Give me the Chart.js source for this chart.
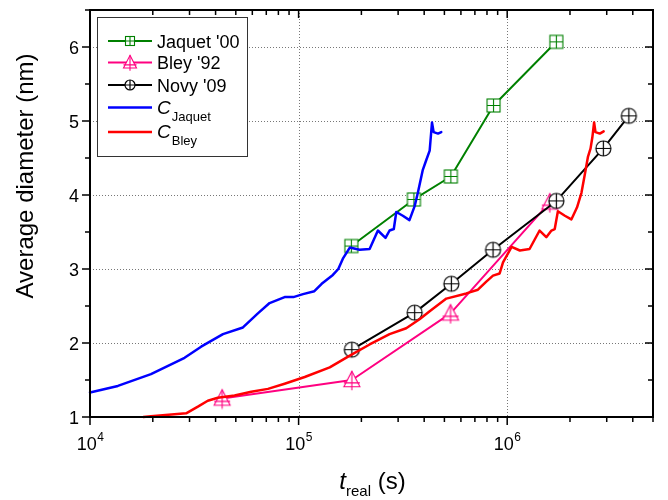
<!DOCTYPE html>
<html><head><meta charset="utf-8">
<script src="https://cdn.jsdelivr.net/npm/chart.js@4"></script>
<style>html,body{margin:0;padding:0;background:#fff;}#wrap{width:668px;height:500px;}</style>
</head><body><div id="wrap"><canvas id="c" width="668" height="500"></canvas></div>
<script>
// ---- data (time in s, diameter in nm) ----
const jaquetT = [1.79e5, 3.57e5, 5.37e5, 8.6e5, 1.72e6];
const jaquetD = [3.31, 3.94, 4.25, 5.21, 6.07];
const bleyT = [4.3e4, 1.8e5, 5.35e5, 1.6e6];
const bleyD = [1.25, 1.50, 2.40, 3.90];
const novyT = [1.8e5, 3.6e5, 5.4e5, 8.55e5, 1.72e6, 2.89e6, 3.83e6];
const novyD = [1.91, 2.41, 2.80, 3.26, 3.92, 4.63, 5.07];
const cJaquetT = [1.0e4, 1.36e4, 1.96e4, 2.84e4, 3.41e4, 4.34e4, 5.41e4, 6.38e4, 7.26e4, 8.57e4, 9.44e4,
  1.05e5, 1.19e5, 1.29e5, 1.46e5, 1.55e5, 1.63e5, 1.76e5, 1.96e5, 2.19e5, 2.40e5, 2.61e5, 2.73e5, 2.86e5,
  2.94e5, 3.16e5, 3.40e5, 3.60e5, 3.73e5, 3.94e5, 4.09e5, 4.25e5, 4.29e5, 4.36e5, 4.44e5, 4.66e5, 4.83e5];
const cJaquetD = [1.33, 1.42, 1.58, 1.80, 1.95, 2.12, 2.21, 2.40, 2.54, 2.62, 2.62,
  2.66, 2.70, 2.80, 2.92, 3.00, 3.14, 3.29, 3.26, 3.27, 3.52, 3.42, 3.52, 3.54,
  3.77, 3.72, 3.66, 3.85, 4.03, 4.34, 4.47, 4.60, 4.74, 4.98, 4.85, 4.83, 4.85];
const cBleyT = [1.8e4, 1.96e4, 2.89e4, 3.29e4, 3.67e4, 4.10e4, 4.93e4, 5.93e4, 7.13e4, 8.57e4, 1.07e5,
  1.41e5, 1.76e5, 2.19e5, 2.73e5, 3.28e5, 3.80e5, 4.25e5, 5.11e5, 6.37e5, 7.24e5, 7.94e5, 8.55e5, 9.20e5,
  9.55e5, 1.05e6, 1.15e6, 1.28e6, 1.43e6, 1.54e6, 1.63e6, 1.69e6, 1.75e6, 1.89e6, 2.03e6, 2.16e6, 2.27e6,
  2.36e6, 2.44e6, 2.51e6, 2.56e6, 2.61e6, 2.65e6, 2.78e6, 2.90e6];
const cBleyD = [1.00, 1.01, 1.05, 1.14, 1.22, 1.26, 1.29, 1.34, 1.38, 1.45, 1.54,
  1.67, 1.83, 1.98, 2.12, 2.20, 2.32, 2.43, 2.60, 2.67, 2.72, 2.83, 2.91, 2.94,
  3.09, 3.30, 3.25, 3.27, 3.52, 3.43, 3.52, 3.54, 3.78, 3.72, 3.67, 3.83, 4.03,
  4.29, 4.52, 4.63, 4.78, 4.98, 4.85, 4.83, 4.86];
const xMajorTicks = [1e4, 1e5, 1e6];
const xTickExponents = ['4', '5', '6'];
const yMajorTicks = [1, 2, 3, 4, 5, 6];
const yTickLabels = ['1', '2', '3', '4', '5', '6'];
const seriesNames = ["Jaquet '00", "Bley '92", "Novy '09", "C", "C"];
const seriesSubs = ['', '', '', 'Jaquet', 'Bley'];
const xTitle = 't', xTitleSub = 'real', xTitleUnit = ' (s)';
const yTitle = 'Average diameter (nm)';

const GREEN = '#008000', PINK = '#FF0080', BLACK = '#000000', BLUE = '#0000FF', RED = '#FF0000';
const FONT = '"Liberation Sans", Arial, sans-serif';

function drawSquarePlus(ctx, cx, cy, s, color) {
  const h = s / 2;
  ctx.save(); ctx.fillStyle = '#fff'; ctx.strokeStyle = color; ctx.lineWidth = 1.1;
  ctx.fillRect(cx - h, cy - h, s, s); ctx.strokeRect(cx - h, cy - h, s, s);
  ctx.beginPath(); ctx.moveTo(cx - h, cy); ctx.lineTo(cx + h, cy); ctx.moveTo(cx, cy - h); ctx.lineTo(cx, cy + h); ctx.stroke();
  ctx.restore();
}
function drawCirclePlus(ctx, cx, cy, s, color) {
  const r = s / 2;
  ctx.save(); ctx.fillStyle = '#fff'; ctx.strokeStyle = color; ctx.lineWidth = 1.2;
  ctx.beginPath(); ctx.arc(cx, cy, r, 0, Math.PI * 2); ctx.fill(); ctx.stroke();
  ctx.beginPath(); ctx.moveTo(cx - r, cy); ctx.lineTo(cx + r, cy); ctx.moveTo(cx, cy - r); ctx.lineTo(cx, cy + r); ctx.stroke();
  ctx.restore();
}
function drawTriPlus(ctx, cx, cy, s, color) {
  const w = s, top = cy - s * 0.55, base = cy + s * 0.42;
  ctx.save(); ctx.fillStyle = '#fff'; ctx.strokeStyle = color; ctx.lineWidth = 1.1;
  ctx.beginPath(); ctx.moveTo(cx, top); ctx.lineTo(cx + w / 2, base); ctx.lineTo(cx - w / 2, base); ctx.closePath(); ctx.fill(); ctx.stroke();
  ctx.beginPath(); ctx.moveTo(cx - w / 2, cy + s * 0.18); ctx.lineTo(cx + w / 2, cy + s * 0.18);
  ctx.moveTo(cx, top); ctx.lineTo(cx, base + s * 0.22); ctx.stroke();
  ctx.restore();
}
function markerCanvas(fn, s, color) {
  const c = document.createElement('canvas'); const n = Math.ceil(s + 6);
  c.width = n; c.height = n;
  fn(c.getContext('2d'), n / 2, n / 2, s, color);
  return c;
}
const mkSquare = markerCanvas(drawSquarePlus, 13, GREEN);
const mkTri = markerCanvas(drawTriPlus, 16, PINK);
const mkCircle = markerCanvas(drawCirclePlus, 15, BLACK);

const toPts = (xs, ys) => xs.map((x, i) => ({ x: x, y: ys[i] }));

const legendItems = [
  { color: GREEN, marker: drawSquarePlus, ms: 9, lw: 2 },
  { color: PINK, marker: drawTriPlus, ms: 13, lw: 2 },
  { color: BLACK, marker: drawCirclePlus, ms: 10, lw: 2 },
  { color: BLUE, marker: null, lw: 2.5 },
  { color: RED, marker: null, lw: 2.5 }
];

const decor = {
  id: 'decor',
  beforeDatasetsDraw(chart) {
    const { ctx, chartArea: a, scales: { x, y } } = chart;
    ctx.save();
    ctx.strokeStyle = '#777'; ctx.lineWidth = 1; ctx.setLineDash([1, 2]);
    ctx.beginPath();
    yMajorTicks.forEach(v => { if (v > y.min && v < y.max) { const p = Math.round(y.getPixelForValue(v)) + 0.5; ctx.moveTo(a.left, p); ctx.lineTo(a.right, p); } });
    xMajorTicks.forEach(v => { if (v > x.min && v < x.max) { const p = Math.round(x.getPixelForValue(v)) + 0.5; ctx.moveTo(p, a.top); ctx.lineTo(p, a.bottom); } });
    ctx.stroke();
    ctx.restore();
  },
  afterDraw(chart) {
    const { ctx, chartArea: a, scales: { x, y } } = chart;
    ctx.save();
    ctx.strokeStyle = '#000'; ctx.lineWidth = 2;
    ctx.strokeRect(a.left, a.top, a.right - a.left, a.bottom - a.top);
    ctx.lineWidth = 1.5; ctx.beginPath();
    xMajorTicks.forEach(dec => {
      for (let m = 1; m <= 9; m++) {
        const v = m * dec; if (v > x.max) break;
        const p = x.getPixelForValue(v); const L = m === 1 ? 8 : 5;
        ctx.moveTo(p, a.bottom); ctx.lineTo(p, a.bottom + L);
        ctx.moveTo(p, a.top); ctx.lineTo(p, a.top + L);
      }
    });
    for (let v = y.min; v <= y.max + 1e-9; v += 0.5) {
      const p = y.getPixelForValue(v); const L = Number.isInteger(v) ? 8 : 5;
      ctx.moveTo(a.left, p); ctx.lineTo(a.left - L, p);
      ctx.moveTo(a.right, p); ctx.lineTo(a.right - L, p);
    }
    ctx.stroke();
    ctx.fillStyle = '#000'; ctx.font = '18px ' + FONT; ctx.textAlign = 'right'; ctx.textBaseline = 'alphabetic';
    yMajorTicks.forEach((v, i) => { ctx.fillText(yTickLabels[i], a.left - 11, y.getPixelForValue(v) + 6.5); });
    xMajorTicks.forEach((v, i) => {
      const p = x.getPixelForValue(v);
      ctx.font = '18px ' + FONT; const w1 = ctx.measureText('10').width;
      ctx.font = '12px ' + FONT; const w2 = ctx.measureText(xTickExponents[i]).width;
      const start = p - (w1 + w2) / 2;
      ctx.textAlign = 'left';
      ctx.font = '18px ' + FONT; ctx.fillText('10', start, 450);
      ctx.font = '12px ' + FONT; ctx.fillText(xTickExponents[i], start + w1 + 0.5, 441);
    });
    ctx.textAlign = 'left';
    ctx.font = 'italic 24px ' + FONT; const wt = ctx.measureText(xTitle).width;
    ctx.font = '15px ' + FONT; const ws = ctx.measureText(xTitleSub).width;
    ctx.font = '24px ' + FONT; const wu = ctx.measureText(xTitleUnit).width;
    let sx = (a.left + a.right) / 2 - (wt + ws + wu) / 2 + 1;
    ctx.font = 'italic 24px ' + FONT; ctx.fillText(xTitle, sx, 489); sx += wt;
    ctx.font = '15px ' + FONT; ctx.fillText(xTitleSub, sx, 496); sx += ws;
    ctx.font = '24px ' + FONT; ctx.fillText(xTitleUnit, sx, 489);
    ctx.save(); ctx.translate(33, 176); ctx.rotate(-Math.PI / 2);
    ctx.textAlign = 'center'; ctx.font = '24px ' + FONT; ctx.fillText(yTitle, 0, 0);
    ctx.restore();
    const bx = 97.5, by = 17.5, bw = 150, bh = 139;
    ctx.fillStyle = '#fff'; ctx.fillRect(bx, by, bw, bh);
    ctx.strokeStyle = '#333'; ctx.lineWidth = 1; ctx.strokeRect(bx, by, bw, bh);
    const rows = [41, 62.5, 85, 107.5, 132];
    legendItems.forEach((it, i) => {
      const ry = rows[i];
      ctx.strokeStyle = it.color; ctx.lineWidth = it.lw;
      ctx.beginPath(); ctx.moveTo(108, ry); ctx.lineTo(152, ry); ctx.stroke();
      if (it.marker) it.marker(ctx, 130, ry, it.ms, it.color);
      ctx.fillStyle = '#000'; ctx.textAlign = 'left';
      if (seriesSubs[i]) {
        ctx.font = 'italic 19px ' + FONT; ctx.fillText(seriesNames[i], 157, ry + 6);
        const wc = ctx.measureText(seriesNames[i]).width;
        ctx.font = '13px ' + FONT; ctx.fillText(seriesSubs[i], 157 + wc + 1, ry + 13);
      } else {
        ctx.font = '18px ' + FONT; ctx.fillText(seriesNames[i], 157, ry + 6.5);
      }
    });
    ctx.restore();
  }
};

new Chart(document.getElementById('c'), {
  type: 'line',
  data: {
    datasets: [
      { label: seriesNames[0], data: toPts(jaquetT, jaquetD), borderColor: GREEN, borderWidth: 2, pointStyle: mkSquare, pointRadius: 7, order: 3 },
      { label: seriesNames[1], data: toPts(bleyT, bleyD), borderColor: PINK, borderWidth: 2, pointStyle: mkTri, pointRadius: 8, order: 2 },
      { label: seriesNames[2], data: toPts(novyT, novyD), borderColor: BLACK, borderWidth: 2, pointStyle: mkCircle, pointRadius: 8, order: 1 },
      { label: seriesNames[3] + seriesSubs[3], data: toPts(cJaquetT, cJaquetD), borderColor: BLUE, borderWidth: 2.5, pointRadius: 0, order: 0 },
      { label: seriesNames[4] + seriesSubs[4], data: toPts(cBleyT, cBleyD), borderColor: RED, borderWidth: 2.5, pointRadius: 0, order: 0 }
    ]
  },
  options: {
    responsive: false, animation: false, devicePixelRatio: 1,
    clip: false,
    layout: { padding: { left: 0, top: 4.5, right: 15, bottom: 0 } },
    plugins: { legend: { display: false }, tooltip: { enabled: false } },
    elements: { line: { tension: 0, fill: false, borderJoinStyle: 'round', borderCapStyle: 'round' } },
    scales: {
      x: { type: 'logarithmic', min: 1e4, max: 5e6, ticks: { display: false }, grid: { display: false }, border: { display: false },
           afterFit(s) { s.height = 83; } },
      y: { type: 'linear', min: 1, max: 6.5, ticks: { display: false }, grid: { display: false }, border: { display: false },
           afterFit(s) { s.width = 90; } }
    }
  },
  plugins: [decor]
});
</script>
</body></html>
